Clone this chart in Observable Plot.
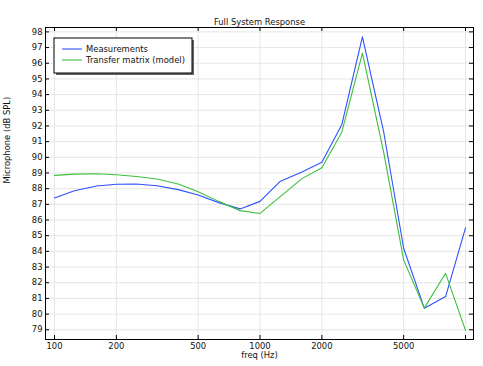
<!DOCTYPE html>
<html><head><meta charset="utf-8">
<script src="https://cdn.jsdelivr.net/npm/d3@7"></script>
<script src="https://cdn.jsdelivr.net/npm/@observablehq/plot@0.6"></script>
<style>body{margin:0;background:#fff} svg{display:block}</style>
</head><body><div id="chart"></div>
<script>
const title = "Full System Response";
const xLabel = "freq (Hz)";
const yLabel = "Microphone (dB SPL)";
const seriesNames = ["Measurements", "Transfer matrix (model)"];
const freqs = [100,125,160,200,250,315,400,500,630,800,1000,1250,1600,2000,2500,3150,4000,5000,6300,8000,10000];
const measured = [87.41,87.87,88.17,88.28,88.30,88.19,87.94,87.60,87.11,86.71,87.19,88.45,89.06,89.68,92.08,97.68,91.6,84.2,80.38,81.12,85.5];
const model = [88.85,88.93,88.95,88.89,88.78,88.62,88.30,87.81,87.19,86.60,86.42,87.48,88.64,89.34,91.6,96.64,90.3,83.46,80.38,82.6,78.96];
const xTicks = [100,200,500,1000,2000,5000,10000];
const xTickLabels = ["100","200","500","1000","2000","5000",""];
const yTicks = [79,80,81,82,83,84,85,86,87,88,89,90,91,92,93,94,95,96,97,98];
const colors = ["#3050ff", "#3cc03c"];

const rows = [
  ...freqs.map((f, i) => ({freq: f, spl: measured[i], series: seriesNames[0]})),
  ...freqs.map((f, i) => ({freq: f, spl: model[i], series: seriesNames[1]}))
];
const xLabelRows = xTicks.map((t, i) => ({t, label: xTickLabels[i]}));

const W = 483, H = 366, mL = 45, mR = 10, mT = 27, mB = 27;
const fw = W - mL - mR, fh = H - mT - mB;
const font = "DejaVu Sans";
const fs = 8.4;

const plot = Plot.plot({
  width: W, height: H,
  marginLeft: mL, marginRight: mR, marginTop: mT, marginBottom: mB,
  style: {fontFamily: font, fontSize: fs + "px", color: "#111", background: "#fff", overflow: "visible"},
  x: {type: "log", domain: [90.4, 10936], axis: null},
  y: {domain: [78.38, 98.28]},
  color: {domain: seriesNames, range: colors},
  marks: [
    Plot.gridX(xTicks, {stroke: "#e6e6e6", strokeOpacity: 1}),
    Plot.gridY(yTicks, {stroke: "#e6e6e6", strokeOpacity: 1}),
    Plot.line(rows, {x: "freq", y: "spl", z: "series", stroke: "series", strokeWidth: 1.1}),
    Plot.tickX(xTicks, {x: d => d, insetTop: fh - 4, stroke: "#000"}),
    Plot.tickX(xTicks, {x: d => d, insetBottom: fh - 4, stroke: "#000"}),
    Plot.tickY(yTicks, {y: d => d, insetRight: fw - 4, stroke: "#000"}),
    Plot.tickY(yTicks, {y: d => d, insetLeft: fw - 4, stroke: "#000"}),
    Plot.text(xLabelRows, {x: "t", text: "label", frameAnchor: "bottom", dy: 6.5, lineAnchor: "middle", fill: "#111"}),
    Plot.axisY(yTicks, {tickSize: 0, tickPadding: 3, tickFormat: d => String(d), label: null}),
    Plot.text([title], {text: d => d, frameAnchor: "top", dy: -8, fill: "#111"}),
    Plot.text([xLabel], {text: d => d, frameAnchor: "bottom", dy: 18.5, fill: "#111"}),
    Plot.text([yLabel], {text: d => d, frameAnchor: "left", rotate: -90, dx: -38, fill: "#111"}),
    Plot.frame({stroke: "#000"})
  ]
});
document.getElementById("chart").append(plot);

// legend
const svg = d3.select(plot);
const lg = svg.append("g");
const lx = 54, ly = 38, lw = 138, lh = 35;
lg.append("rect").attr("x", lx + 2).attr("y", ly + 2).attr("width", lw).attr("height", lh).attr("fill", "#666");
lg.append("rect").attr("x", lx).attr("y", ly).attr("width", lw).attr("height", lh).attr("fill", "#fff").attr("stroke", "#000").attr("stroke-width", 1);
seriesNames.forEach((name, i) => {
  const yy = ly + 11 + i * 11;
  lg.append("line").attr("x1", lx + 8).attr("x2", lx + 28).attr("y1", yy).attr("y2", yy)
    .attr("stroke", colors[i]).attr("stroke-width", 1.1);
  lg.append("text").attr("x", lx + 32).attr("y", yy).attr("dy", "0.35em")
    .attr("text-anchor", "start")
    .attr("font-family", font).attr("font-size", fs).attr("fill", "#111").text(name);
});
</script>
</body></html>
